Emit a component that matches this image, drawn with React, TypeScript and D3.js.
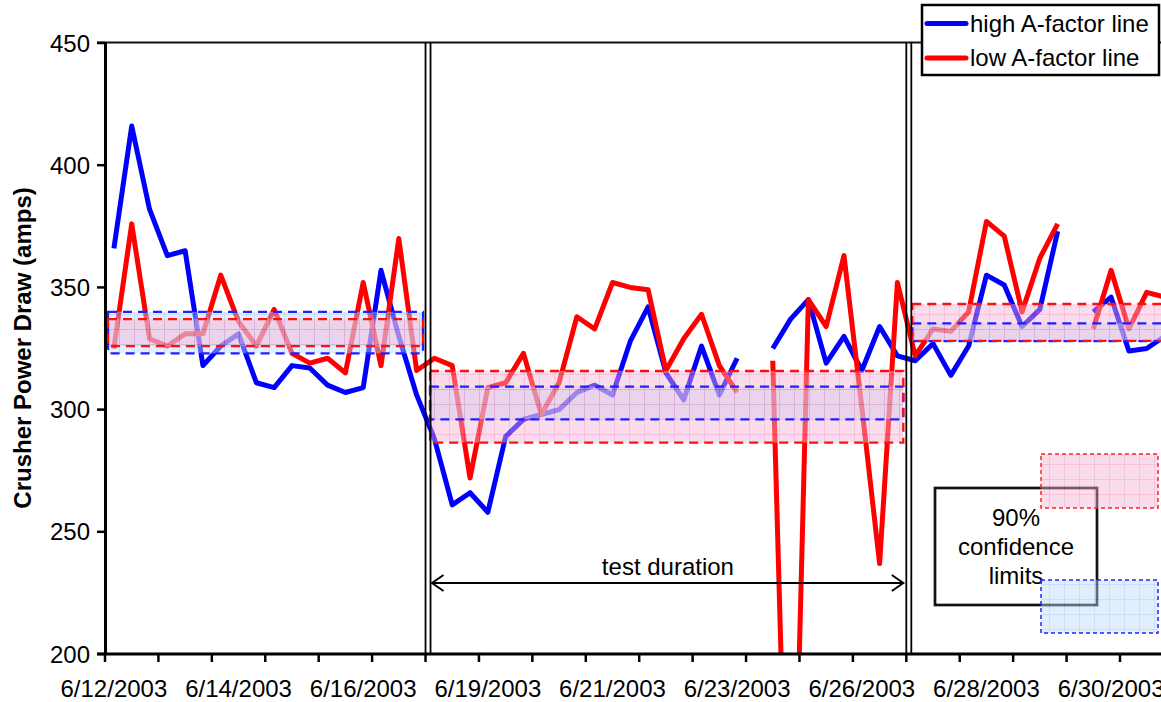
import React from "react";
import * as d3 from "d3";

// ---- data ----
const highA: (number | null)[] = [
  366, 416, 382, 363, 365, 318, 326, 331, 311, 309, 318, 317, 310, 307, 309, 357, 330, 306,
  288, 261, 266, 258, 289, 296, 298, 300, 307, 310, 306, 328, 342, 315, 304, 326, 306, 321,
  null,
  325, 337, 345, 319, 330, 316, 334, 322,
  320, 327, 314, 326, 355, 351, 334, 341, 373,
  null,
  340, 346, 324, 325, 330,
];
const lowA: (number | null)[] = [
  325, 376, 329, 326, 331, 331, 355, 336, 326, 341, 323, 319, 321, 315, 352, 318, 370, 316,
  321, 318, 272, 309, 311, 323, 298, 311, 338, 333, 352, 350, 349, 316, 329, 339, 318, 307,
  null,
  320, 60, 345, 334, 363, 301, 237, 352,
  322, 333, 332, 340, 377, 371, 340, 362, 376,
  null,
  333, 357, 333, 348, 346,
];
const labelIdx = [0, 7, 14, 21, 28, 35, 42, 49, 56];
const labelText = ["6/12/2003", "6/14/2003", "6/16/2003", "6/19/2003", "6/21/2003", "6/23/2003", "6/26/2003", "6/28/2003", "6/30/2003"];
const yTicks = [200, 250, 300, 350, 400, 450];
const periodStart = [0, 18, 45];
const periodEnd = [18, 45, 60];
const blueLo = [323, 296, 328];
const blueHi = [340, 309.4, 335.3];
const redLo = [326, 286.5, 328.1];
const redHi = [337, 315.8, 343.2];
const testBreaks = [18, 45];

const W = 1161, H = 702;
const FONT = "'Liberation Sans', Arial, Helvetica, sans-serif";
const NCAT = 60;

export default function App() {
  const x = d3.scaleLinear().domain([0, NCAT]).range([105, 105 + NCAT * 17.807]);
  const y = d3.scaleLinear().domain([200, 450]).range([654, 43]);
  const cx = (i: number) => x(i + 0.5);

  const lineGen = d3
    .line<number | null>()
    .defined((d) => d !== null)
    .x((_, i) => cx(i))
    .y((d) => y(d as number));

  const tickCats = d3.range(0, NCAT + 1, 3);
  const insetL = [3, 4.5, 6];
  const insetR = [-2.5, -3, 20];
  const bandOp = 0.45;

  return (
    <svg width={W} height={H} style={{ position: "fixed", left: 0, top: 0, background: "#fff" }} fontFamily={FONT}>
      <defs>
        <clipPath id="plotClip">
          <rect x={105} y={43} width={W - 105} height={611} />
        </clipPath>
        <pattern id="pinkGrid" width={15} height={15} patternUnits="userSpaceOnUse">
          <rect width={15} height={15} fill="rgb(246,178,212)" />
          <path d="M14.5 0 V15 M0 14.5 H15" stroke="rgb(236,120,175)" strokeWidth={1} />
        </pattern>
        <pattern id="blueGrid" width={15} height={15} patternUnits="userSpaceOnUse">
          <rect width={15} height={15} fill="rgb(188,218,250)" />
          <path d="M14.5 0 V15 M0 14.5 H15" stroke="rgb(140,185,240)" strokeWidth={1} />
        </pattern>
      </defs>

      {/* data lines */}
      <g clipPath="url(#plotClip)">
        <path d={lineGen(highA) || ""} fill="none" stroke="#0000ff" strokeWidth={5} strokeLinejoin="round" />
        <path d={lineGen(lowA) || ""} fill="none" stroke="#ff0000" strokeWidth={5} strokeLinejoin="round" />
      </g>

      {/* confidence bands */}
      <g clipPath="url(#plotClip)">
        {periodStart.map((s, k) => {
          const x0 = x(s) + insetL[k];
          const x1 = x(periodEnd[k]) + insetR[k];
          return (
            <g key={k}>
              <rect x={x0} y={y(blueHi[k])} width={x1 - x0} height={y(blueLo[k]) - y(blueHi[k])} fill="url(#blueGrid)" opacity={bandOp} />
              <rect x={x0} y={y(redHi[k])} width={x1 - x0} height={y(redLo[k]) - y(redHi[k])} fill="url(#pinkGrid)" opacity={bandOp} />
              <rect x={x0} y={y(blueHi[k])} width={x1 - x0} height={y(blueLo[k]) - y(blueHi[k])} fill="none" stroke="#2020ff" strokeWidth={2.3} strokeDasharray="9,6" />
              <rect x={x0} y={y(redHi[k])} width={x1 - x0} height={y(redLo[k]) - y(redHi[k])} fill="none" stroke="#ff1010" strokeWidth={2.3} strokeDasharray="9,6" />
            </g>
          );
        })}
      </g>

      {/* top border */}
      <line x1={97} x2={W} y1={42.5} y2={42.5} stroke="#111" strokeWidth={2} />

      {/* test boundaries (double lines) */}
      {testBreaks.map((b) => (
        <g key={b}>
          <line x1={x(b)} x2={x(b)} y1={43} y2={654} stroke="#000" strokeWidth={1.8} />
          <line x1={x(b) + 5} x2={x(b) + 5} y1={43} y2={654} stroke="#000" strokeWidth={1.8} />
        </g>
      ))}

      {/* test duration arrow */}
      <g stroke="#000" strokeWidth={2} fill="none">
        <line x1={x(18) + 6.5} x2={x(45) - 3} y1={583} y2={583} />
        <path d={`M${x(18) + 18},575 L${x(18) + 6.5},583 L${x(18) + 18},591`} />
        <path d={`M${x(45) - 14.5},575 L${x(45) - 3},583 L${x(45) - 14.5},591`} />
      </g>
      <text x={(x(18) + x(45)) / 2 + 2} y={575} fontSize={24} textAnchor="middle" fill="#000">test duration</text>

      {/* y axis */}
      <line x1={105.5} x2={105.5} y1={42} y2={655} stroke="#000" strokeWidth={3} />
      {yTicks.map((t) => (
        <g key={t}>
          <line x1={97} x2={105} y1={y(t)} y2={y(t)} stroke="#000" strokeWidth={2.5} />
          <text x={90} y={y(t)} dy="0.36em" fontSize={24} textAnchor="end" fill="#000">{t}</text>
        </g>
      ))}
      <text transform={`translate(31,348) rotate(-90)`} fontSize={24} fontWeight="bold" textAnchor="middle" fill="#000">
        Crusher Power Draw (amps)
      </text>

      {/* x axis */}
      <line x1={97} x2={W} y1={654} y2={654} stroke="#000" strokeWidth={3} />
      {tickCats.map((c) => (
        <line key={c} x1={x(c)} x2={x(c)} y1={654} y2={662} stroke="#000" strokeWidth={2.5} />
      ))}
      {labelIdx.map((c, k) => (
        <text key={c} x={cx(c)} y={697} fontSize={24} textAnchor="middle" fill="#000">{labelText[k]}</text>
      ))}

      {/* 90% confidence limits annotation */}
      <rect x={935} y={488} width={162} height={117} fill="#fff" stroke="#111" strokeWidth={2.7} />
      <text x={1016} y={526} fontSize={24} textAnchor="middle" fill="#000">90%</text>
      <text x={1016} y={555} fontSize={24} textAnchor="middle" fill="#000">confidence</text>
      <text x={1016} y={584} fontSize={24} textAnchor="middle" fill="#000">limits</text>
      <rect x={1041} y={454} width={117} height={54} fill="url(#pinkGrid)" opacity={bandOp} />
      <rect x={1041} y={454} width={117} height={54} fill="none" stroke="#ff2020" strokeWidth={1.5} strokeDasharray="4,3" />
      <rect x={1041} y={580} width={117} height={53} fill="url(#blueGrid)" opacity={bandOp} />
      <rect x={1041} y={580} width={117} height={53} fill="none" stroke="#2020ff" strokeWidth={1.5} strokeDasharray="4,3" />

      {/* legend */}
      <rect x={922} y={5} width={237} height={70} fill="#fff" stroke="#000" strokeWidth={2.5} />
      <line x1={927} x2={966} y1={23.5} y2={23.5} stroke="#0000ff" strokeWidth={5} strokeLinecap="round" />
      <text x={970} y={32} fontSize={24} fill="#000">high A-factor line</text>
      <line x1={927} x2={966} y1={58} y2={58} stroke="#ff0000" strokeWidth={5} strokeLinecap="round" />
      <text x={970} y={66} fontSize={24} fill="#000">low A-factor line</text>
    </svg>
  );
}
